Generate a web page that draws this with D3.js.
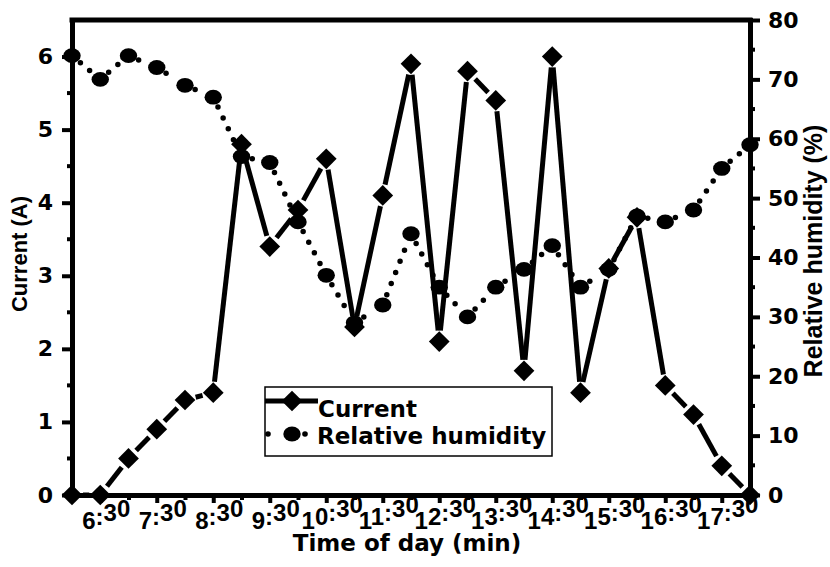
<!DOCTYPE html>
<html>
<head>
<meta charset="utf-8">
<script src="https://cdn.jsdelivr.net/npm/d3@7"></script>
<style>
    body { margin: 0; background: #fff; }
</style>
</head>
<body>
<div id="chart"></div>
<script>
// readings every 30 min
const times = ["6:00", "6:30", "7:00", "7:30", "8:00", "8:30", "9:00", "9:30", "10:00", "10:30",
    "11:00", "11:30", "12:00", "12:30", "13:00", "13:30", "14:00", "14:30", "15:00", "15:30",
    "16:00", "16:30", "17:00", "17:30", "18:00"];
const current = [0, 0, 0.5, 0.9, 1.3, 1.4, 4.8, 3.4, 3.9, 4.6, 2.3, 4.1, 5.9, 2.1, 5.8, 5.4,
    1.7, 6.0, 1.4, 3.1, 3.8, 1.5, 1.1, 0.4, 0];
const humidity = [74, 70, 74, 72, 69, 67, 57, 56, 46, 37, 29, 32, 44, 35, 30, 35,
    38, 42, 35, 38, 47, 46, 48, 55, 59];

const timeLabels = ["6:30", "7:30", "8:30", "9:30", "10:30", "11:30", "12:30", "13:30",
    "14:30", "15:30", "16:30", "17:30"];
const currentTicks = [0, 1, 2, 3, 4, 5, 6];
const currentMinor = [0.5, 1.5, 2.5, 3.5, 4.5, 5.5];
const humidityTicks = [0, 10, 20, 30, 40, 50, 60, 70, 80];
const humidityMinor = [5, 15, 25, 35, 45, 55, 65, 75];

const width = 830, height = 567;
const margin = { top: 20, right: 80, bottom: 72, left: 72 };
const tickFont = "'DejaVu Sans', sans-serif";
const titleFont = "'Liberation Sans', Arial, sans-serif";

const svg = d3.select("#chart").append("svg")
    .attr("width", width)
    .attr("height", height);

const x = d3.scalePoint()
    .domain(times)
    .range([margin.left, width - margin.right]);
const yL = d3.scaleLinear()
    .domain([0, 6.5])
    .range([height - margin.bottom, margin.top]);
const yR = d3.scaleLinear()
    .domain([0, 80])
    .range([height - margin.bottom, margin.top]);

// shorten a segment at both ends (gap to symbol)
function shorten(a, b, gap) {
    const dx = b[0] - a[0], dy = b[1] - a[1];
    const len = Math.sqrt(dx * dx + dy * dy);
    if (len <= gap * 2) return null;
    const ux = dx / len, uy = dy / len;
    return [a[0] + ux * gap, a[1] + uy * gap, b[0] - ux * gap, b[1] - uy * gap];
}

// humidity: dotted line + ellipses
const humPts = times.map((t, i) => [x(t), yR(humidity[i])]);
const humSegs = d3.pairs(humPts).map(([a, b]) => shorten(a, b, 11)).filter(d => d);

svg.append("g")
    .selectAll("line")
    .data(humSegs)
    .join("line")
    .attr("x1", d => d[0]).attr("y1", d => d[1])
    .attr("x2", d => d[2]).attr("y2", d => d[3])
    .attr("stroke", "#000")
    .attr("stroke-width", 5.5)
    .attr("stroke-linecap", "round")
    .attr("stroke-dasharray", "0,12");

svg.append("g")
    .selectAll("ellipse")
    .data(humPts)
    .join("ellipse")
    .attr("cx", d => d[0])
    .attr("cy", d => d[1])
    .attr("rx", 8.7)
    .attr("ry", 7.4)
    .attr("fill", "#000");

// current: solid line with gaps + diamonds
const curPts = times.map((t, i) => [x(t), yL(current[i])]);
const curSegs = d3.pairs(curPts).map(([a, b]) => shorten(a, b, 11)).filter(d => d);

svg.append("g")
    .selectAll("line")
    .data(curSegs)
    .join("line")
    .attr("x1", d => d[0]).attr("y1", d => d[1])
    .attr("x2", d => d[2]).attr("y2", d => d[3])
    .attr("stroke", "#000")
    .attr("stroke-width", 5);

const diamond = d3.symbol().type(d3.symbolSquare).size(215);
svg.append("g")
    .selectAll("path")
    .data(curPts)
    .join("path")
    .attr("d", diamond)
    .attr("transform", d => `translate(${d[0]},${d[1]}) rotate(45)`)
    .attr("fill", "#000");

// axes
function styleAxis(g) {
    g.select(".domain")
        .attr("stroke-width", 5)
        .attr("stroke-linecap", "square");
    g.selectAll(".tick line").attr("stroke-width", 4);
    g.selectAll(".tick text")
        .attr("font-family", tickFont)
        .attr("font-weight", "bold")
        .attr("font-size", 22)
        .attr("fill", "#000");
}

const bottomAxis = svg.append("g")
    .attr("transform", `translate(0,${yL(0)})`)
    .call(d3.axisBottom(x).tickSizeInner(8).tickSizeOuter(0).tickFormat(""))
    .call(styleAxis);
bottomAxis.selectAll(".tick line")
    .attr("y2", d => timeLabels.includes(d) ? 8 : 5);

svg.append("g")
    .attr("transform", `translate(${margin.left},0)`)
    .call(d3.axisLeft(yL).tickValues(currentTicks).tickFormat(d3.format("d"))
        .tickSizeInner(10).tickSizeOuter(0).tickPadding(9))
    .call(styleAxis)
    .call(g => g.selectAll(".minor").data(currentMinor).join("line")
        .attr("class", "minor")
        .attr("x2", -5)
        .attr("y1", d => yL(d)).attr("y2", d => yL(d))
        .attr("stroke", "#000").attr("stroke-width", 4));

svg.append("g")
    .attr("transform", `translate(${width - margin.right},0)`)
    .call(d3.axisRight(yR).tickValues(humidityTicks)
        .tickSizeInner(10).tickSizeOuter(0).tickPadding(8))
    .call(styleAxis)
    .call(g => g.selectAll(".minor").data(humidityMinor).join("line")
        .attr("class", "minor")
        .attr("x2", 5)
        .attr("y1", d => yR(d)).attr("y2", d => yR(d))
        .attr("stroke", "#000").attr("stroke-width", 4));

// top frame line
svg.append("line")
    .attr("x1", margin.left).attr("x2", width - margin.right)
    .attr("y1", margin.top).attr("y2", margin.top)
    .attr("stroke", "#000")
    .attr("stroke-width", 5)
    .attr("stroke-linecap", "square");

// x tick labels: each glyph steps up a little, like the original
svg.append("g")
    .selectAll("text")
    .data(timeLabels)
    .join("text")
    .attr("x", d => x(d) + 6)
    .attr("y", yL(0) + 34)
    .attr("text-anchor", "middle")
    .attr("font-family", titleFont)
    .attr("font-weight", "bold")
    .attr("font-size", 24)
    .selectAll("tspan")
    .data(d => d.split(""))
    .join("tspan")
    .attr("dy", (c, i) => i ? -4 : 0)
    .text(c => c);

// axis titles
svg.append("text")
    .attr("x", 407).attr("y", 551)
    .attr("text-anchor", "middle")
    .attr("font-family", tickFont)
    .attr("font-weight", "bold")
    .attr("font-size", 23)
    .text("Time of day (min)");

svg.append("text")
    .attr("transform", "translate(27,254) rotate(-90)")
    .attr("text-anchor", "middle")
    .attr("font-family", titleFont)
    .attr("font-weight", "bold")
    .attr("font-size", 22)
    .text("Current (A)");

svg.append("text")
    .attr("transform", "translate(822,251) rotate(-90)")
    .attr("text-anchor", "middle")
    .attr("font-family", titleFont)
    .attr("font-weight", "bold")
    .attr("font-size", 25)
    .text("Relative humidity (%)");

// legend
const legend = svg.append("g").attr("transform", "translate(265,387)");
legend.append("rect")
    .attr("width", 287).attr("height", 69)
    .attr("fill", "#fff")
    .attr("stroke", "#000")
    .attr("stroke-width", 1.5);

legend.append("line")
    .attr("x1", 0).attr("x2", 53)
    .attr("y1", 14).attr("y2", 14)
    .attr("stroke", "#000").attr("stroke-width", 5);
legend.append("path")
    .attr("d", diamond)
    .attr("transform", "translate(27,14) rotate(45)");

legend.selectAll(".dot").data([3, 40]).join("circle")
    .attr("class", "dot")
    .attr("cx", d => d).attr("cy", 47).attr("r", 2.8);
legend.append("ellipse")
    .attr("cx", 27).attr("cy", 47)
    .attr("rx", 8.7).attr("ry", 7.4);

legend.selectAll(".label").data(["Current", "Relative humidity"]).join("text")
    .attr("class", "label")
    .attr("x", (d, i) => i ? 52 : 53)
    .attr("y", (d, i) => i ? 57 : 30)
    .attr("font-family", tickFont)
    .attr("font-weight", "bold")
    .attr("font-size", 23)
    .text(d => d);
</script>
</body>
</html>
